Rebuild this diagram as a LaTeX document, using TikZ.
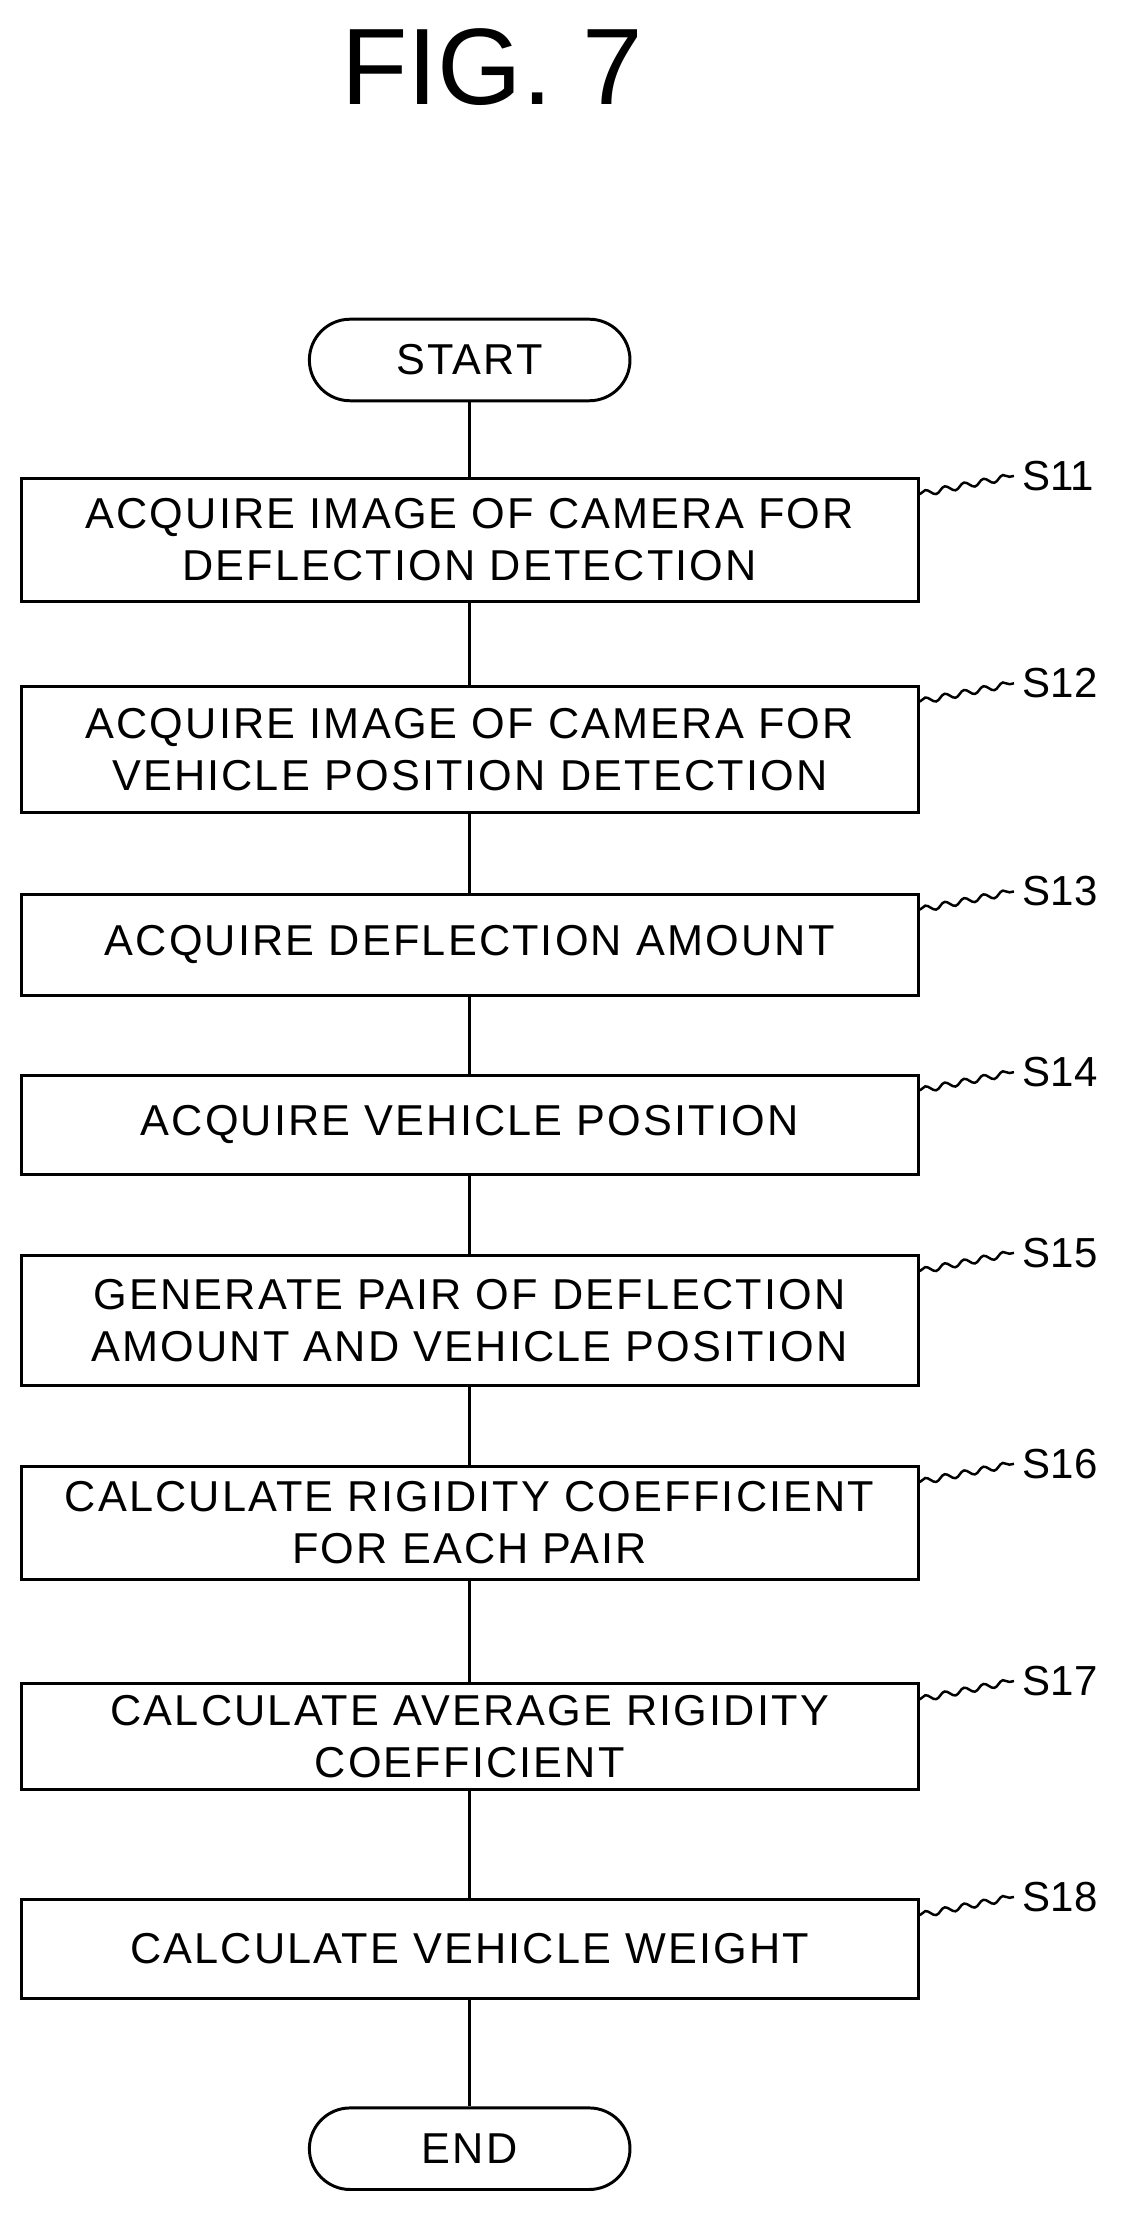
\documentclass[tikz,border=0pt]{standalone}
\usepackage{fontspec}
\setmainfont{Liberation Sans}
\usetikzlibrary{shapes,positioning,calc,decorations.pathmorphing}
\begin{document}
\begin{tikzpicture}[
    x=0.02cm, y=-0.02cm,
    stepbox/.style={rectangle, draw, line width=1.2pt, minimum width=638*0.02cm,
                 align=center, font=\fontsize{17.5}{21}\selectfont\addfontfeature{LetterSpace=5}, inner sep=0pt},
    terminal/.style={rectangle, draw, line width=1.2pt, rounded corners=29*0.02cm,
                 minimum width=228*0.02cm, minimum height=58*0.02cm, font=\fontsize{17.5}{20}\selectfont\addfontfeature{LetterSpace=5}},
    steplabel/.style={font=\fontsize{17}{20}\selectfont, anchor=west},
    squiggle/.style={line width=1pt, decorate, decoration={snake, amplitude=1.2pt, segment length=8pt}},
    link/.style={line width=1.2pt}
  ]
    \useasboundingbox (0,0) rectangle (800,1578);
    \node[font=\fontsize{44}{50}\selectfont] (title) at (350,48) {FIG. 7};

    \node[terminal] (start) at (334,256) {START};
    \node[stepbox, minimum height=87*0.02cm] (s11) at (334,384) {ACQUIRE IMAGE OF CAMERA FOR\\DEFLECTION DETECTION};
    \node[stepbox, minimum height=90*0.02cm] (s12) at (334,533) {ACQUIRE IMAGE OF CAMERA FOR\\VEHICLE POSITION DETECTION};
    \node[stepbox, minimum height=72*0.02cm] (s13) at (334,672) {ACQUIRE DEFLECTION AMOUNT};
    \node[stepbox, minimum height=71*0.02cm] (s14) at (334,800) {ACQUIRE VEHICLE POSITION};
    \node[stepbox, minimum height=92*0.02cm] (s15) at (334,939) {GENERATE PAIR OF DEFLECTION\\AMOUNT AND VEHICLE POSITION};
    \node[stepbox, minimum height=80*0.02cm] (s16) at (334,1083) {CALCULATE RIGIDITY COEFFICIENT\\FOR EACH PAIR};
    \node[stepbox, minimum height=75*0.02cm] (s17) at (334,1235) {CALCULATE AVERAGE RIGIDITY\\COEFFICIENT};
    \node[stepbox, minimum height=70*0.02cm] (s18) at (334,1386) {CALCULATE VEHICLE WEIGHT};
    \node[terminal] (end) at (334,1528) {END};

    \draw[link] (start) -- (s11);
    \foreach \a/\b in {s11/s12, s12/s13, s13/s14, s14/s15, s15/s16, s16/s17, s17/s18, s18/end}
      \draw[link] (\a) -- (\b);

    % step labels
    \foreach \s/\t in {s11/S11, s12/S12, s13/S13, s14/S14, s15/S15, s16/S16, s17/S17, s18/S18} {
      \coordinate (\s tip) at ($(\s.north east)+(67,-1)$);
      \draw[squiggle] ($(\s.north east)+(0,12)$) -- (\s tip);
      \node[steplabel] (\s lab) at ($(\s tip)+(0,0)$) {\t};
    }
  \end{tikzpicture}
\end{document}
